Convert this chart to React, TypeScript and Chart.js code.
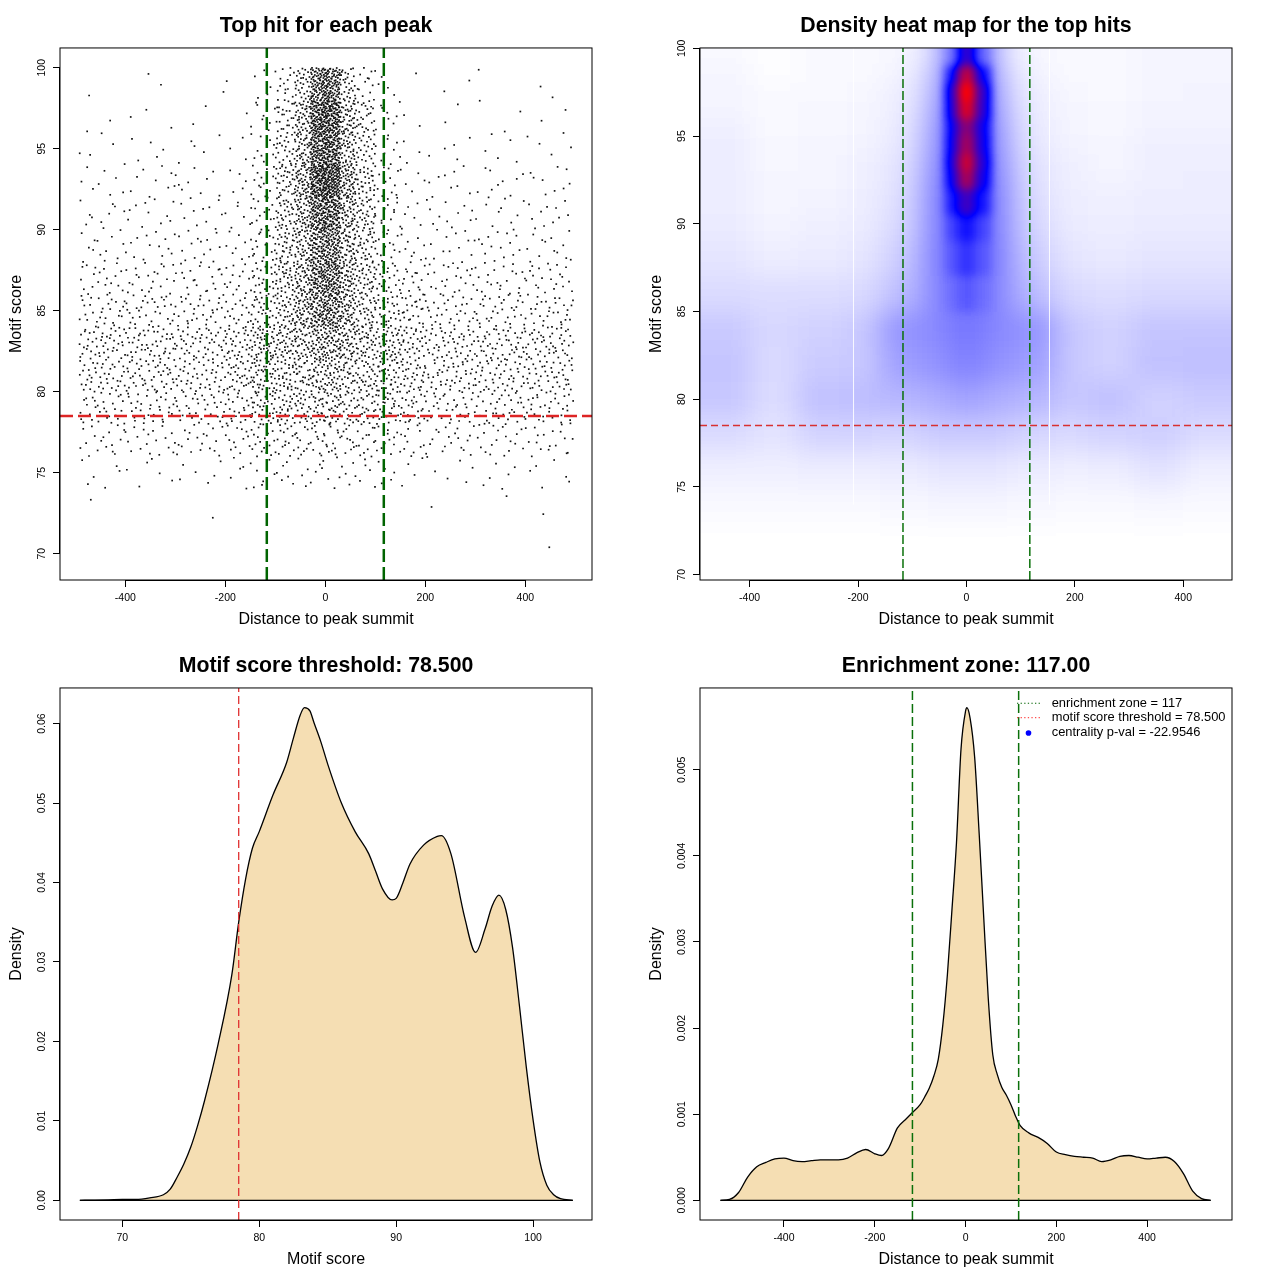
import React, { useEffect, useRef } from "react";
import { Chart, registerables } from "chart.js";

Chart.register(...registerables);

const FONT = "'Liberation Sans', Arial, Helvetica, sans-serif";

// ---------- values shared by the four panels ----------
const ENRICHMENT_ZONE = 117;
const SCORE_THRESHOLD = 78.5;
const CENTRALITY_PVAL = "-22.9546";

// ---------- tick values ----------
const DIST_TICKS = [-400, -200, 0, 200, 400];
const SCORE_TICKS_TOP = [70, 75, 80, 85, 90, 95, 100];
const SCORE_TICKS_BOTTOM = [70, 80, 90, 100];
const SCORE_DENSITY_TICKS = [0, 0.01, 0.02, 0.03, 0.04, 0.05, 0.06];
const DIST_DENSITY_TICKS = [0, 0.001, 0.002, 0.003, 0.004, 0.005];

// ---------- panel 1: top hit for each peak (hits counted per distance x score cell) ----------
const HIT_DIST_EDGES = [-492, -400, -300, -200, -150, -100, -60, -30, -10, 10, 30, 60, 100, 150, 200, 300, 400, 496];
const HIT_SCORE_EDGES = [69.6, 72, 74, 76, 78, 80, 82, 84, 86, 88, 90, 92, 94, 96, 98, 100];
// one row per score band, lowest band first; one column per distance band
const HIT_COUNTS = [
  [0, 0, 0, 0, 0, 0, 0, 0, 0, 0, 0, 0, 0, 0, 0, 0, 1],
  [1, 0, 1, 0, 0, 0, 0, 0, 0, 0, 0, 0, 0, 0, 1, 1, 1],
  [6, 6, 6, 5, 7, 6, 4, 3, 3, 3, 4, 6, 5, 4, 6, 6, 6],
  [17, 19, 19, 13, 18, 16, 10, 8, 8, 8, 10, 14, 13, 11, 19, 19, 18],
  [31, 34, 34, 21, 36, 29, 21, 17, 18, 18, 20, 25, 29, 25, 34, 34, 33],
  [43, 47, 47, 30, 46, 34, 26, 20, 22, 22, 26, 31, 39, 32, 47, 47, 45],
  [46, 50, 50, 31, 51, 40, 33, 29, 33, 33, 37, 40, 43, 33, 50, 50, 48],
  [29, 32, 32, 18, 31, 37, 44, 46, 54, 51, 48, 33, 30, 23, 32, 32, 31],
  [20, 22, 22, 12, 25, 38, 42, 54, 62, 59, 46, 36, 23, 16, 22, 22, 21],
  [13, 14, 14, 8, 18, 33, 38, 51, 58, 55, 40, 32, 15, 8, 14, 14, 13],
  [10, 11, 11, 6, 15, 34, 42, 64, 74, 68, 45, 35, 13, 6, 11, 11, 11],
  [8, 9, 9, 5, 13, 34, 50, 82, 97, 87, 54, 34, 11, 5, 9, 9, 9],
  [5, 5, 5, 3, 10, 26, 40, 69, 81, 71, 40, 26, 9, 3, 5, 5, 5],
  [2, 3, 2, 1, 8, 24, 40, 75, 90, 78, 42, 26, 8, 2, 2, 3, 2],
  [1, 2, 1, 1, 5, 16, 28, 55, 70, 57, 27, 14, 4, 1, 2, 1, 2],
];

// ---------- panel 2: density heat map (normalised density per cell) ----------
const HEAT_DIST_EDGES = [-493, -400, -310, -220, -160, -110, -70, -40, -15, 15, 45, 75, 115, 165, 225, 310, 400, 494];
const HEAT_SCORE_EDGES = [69.7, 73, 75, 77, 79, 81, 83, 85, 87, 89, 90.5, 92, 93, 94, 95, 96, 97, 98, 99, 100.02];
// lowest score band first
const HEAT_DENSITY = [
  [0, 0, 0, 0, 0, 0, 0, 0, 0, 0, 0, 0, 0, 0, 0, 0, 0],
  [0.01, 0.01, 0.01, 0.01, 0.015, 0.015, 0.02, 0.02, 0.02, 0.02, 0.02, 0.015, 0.015, 0.01, 0.01, 0.015, 0.01],
  [0.03, 0.03, 0.035, 0.035, 0.04, 0.04, 0.05, 0.05, 0.05, 0.05, 0.05, 0.04, 0.04, 0.03, 0.035, 0.055, 0.03],
  [0.07, 0.055, 0.085, 0.085, 0.08, 0.09, 0.1, 0.1, 0.1, 0.1, 0.1, 0.09, 0.08, 0.075, 0.085, 0.095, 0.07],
  [0.11, 0.07, 0.12, 0.13, 0.14, 0.15, 0.16, 0.17, 0.19, 0.17, 0.16, 0.15, 0.14, 0.11, 0.12, 0.09, 0.1],
  [0.115, 0.075, 0.1, 0.11, 0.18, 0.2, 0.21, 0.23, 0.25, 0.23, 0.21, 0.2, 0.18, 0.11, 0.09, 0.12, 0.125],
  [0.105, 0.08, 0.09, 0.11, 0.2, 0.22, 0.23, 0.25, 0.28, 0.25, 0.23, 0.22, 0.2, 0.11, 0.09, 0.115, 0.115],
  [0.07, 0.065, 0.065, 0.075, 0.12, 0.17, 0.24, 0.3, 0.33, 0.3, 0.24, 0.17, 0.12, 0.075, 0.065, 0.075, 0.075],
  [0.05, 0.035, 0.04, 0.05, 0.09, 0.15, 0.26, 0.34, 0.4, 0.34, 0.26, 0.15, 0.09, 0.05, 0.045, 0.05, 0.05],
  [0.04, 0.025, 0.03, 0.04, 0.07, 0.13, 0.26, 0.38, 0.47, 0.38, 0.26, 0.13, 0.07, 0.04, 0.035, 0.04, 0.04],
  [0.035, 0.02, 0.025, 0.035, 0.06, 0.12, 0.26, 0.46, 0.62, 0.47, 0.26, 0.12, 0.06, 0.035, 0.03, 0.035, 0.035],
  [0.035, 0.02, 0.02, 0.03, 0.05, 0.11, 0.25, 0.54, 0.82, 0.55, 0.25, 0.11, 0.05, 0.03, 0.025, 0.03, 0.035],
  [0.035, 0.015, 0.02, 0.03, 0.05, 0.1, 0.24, 0.58, 0.9, 0.59, 0.24, 0.1, 0.05, 0.03, 0.02, 0.03, 0.03],
  [0.035, 0.015, 0.02, 0.025, 0.04, 0.09, 0.22, 0.55, 0.82, 0.56, 0.22, 0.09, 0.04, 0.025, 0.02, 0.03, 0.03],
  [0.03, 0.01, 0.015, 0.02, 0.04, 0.08, 0.21, 0.54, 0.77, 0.55, 0.21, 0.08, 0.04, 0.02, 0.015, 0.025, 0.025],
  [0.02, 0.01, 0.015, 0.02, 0.03, 0.07, 0.19, 0.6, 0.93, 0.62, 0.19, 0.07, 0.03, 0.02, 0.015, 0.025, 0.025],
  [0.02, 0.01, 0.01, 0.015, 0.03, 0.06, 0.17, 0.62, 1.0, 0.64, 0.17, 0.06, 0.03, 0.015, 0.01, 0.02, 0.025],
  [0.02, 0.005, 0.01, 0.01, 0.02, 0.05, 0.14, 0.52, 0.88, 0.54, 0.14, 0.05, 0.02, 0.01, 0.01, 0.02, 0.02],
  [0.01, 0.005, 0.01, 0.01, 0.015, 0.03, 0.1, 0.33, 0.6, 0.35, 0.1, 0.03, 0.015, 0.01, 0.01, 0.02, 0.02],
];
const HEAT_SEAMS = [-210, 153];

// ---------- panel 3: motif score density ----------
const SCORE_GRID = [66.9, 68, 69, 70, 71, 72, 73, 73.5, 74, 74.5, 75, 75.5, 76, 77, 78, 78.5, 79, 79.5, 80, 81, 82, 82.5, 83, 83.3, 83.7, 84, 84.5, 85, 86, 87, 88, 88.5, 89, 89.7, 90, 90.5, 91, 92, 93, 93.3, 94, 95, 95.8, 96.5, 97, 97.5, 98, 98.5, 99, 99.5, 100, 100.5, 101, 101.5, 102, 102.9];
const SCORE_DENSITY = [0, 0.00002, 0.00005, 0.0001, 0.0001, 0.0003, 0.0007, 0.0014, 0.0029, 0.0046, 0.0067, 0.0094, 0.0125, 0.0197, 0.0284, 0.035, 0.0404, 0.0443, 0.0464, 0.051, 0.0551, 0.0582, 0.0611, 0.062, 0.0616, 0.0601, 0.0577, 0.0549, 0.05, 0.0464, 0.0436, 0.0414, 0.0392, 0.0378, 0.038, 0.04, 0.0423, 0.0447, 0.0458, 0.0459, 0.0436, 0.0356, 0.0312, 0.0342, 0.037, 0.0384, 0.0366, 0.0318, 0.0245, 0.0168, 0.0101, 0.0048, 0.0019, 0.0007, 0.0002, 0];

// ---------- panel 4: distance density ----------
const DIST_GRID = [-540, -520, -500, -480, -460, -440, -420, -400, -380, -360, -340, -320, -300, -280, -260, -240, -220, -200, -185, -170, -150, -130, -117, -100, -90, -80, -70, -60, -50, -40, -30, -20, -10, 0, 3, 10, 20, 30, 40, 50, 60, 70, 80, 90, 100, 110, 120, 140, 160, 180, 200, 220, 240, 260, 280, 300, 320, 340, 360, 380, 400, 420, 440, 460, 480, 500, 520, 540];
const DIST_DENSITY = [0, 0.00001, 0.00009, 0.00027, 0.00039, 0.00044, 0.00048, 0.00049, 0.00046, 0.00045, 0.00046, 0.00047, 0.00047, 0.00047, 0.00049, 0.00055, 0.00059, 0.00054, 0.00052, 0.0006, 0.00084, 0.00095, 0.00102, 0.00111, 0.0012, 0.0013, 0.00144, 0.00164, 0.00204, 0.00262, 0.00337, 0.00415, 0.00524, 0.00568, 0.00572, 0.0056, 0.00515, 0.00426, 0.00329, 0.00235, 0.00169, 0.00146, 0.00131, 0.00122, 0.00111, 0.00098, 0.00087, 0.00078, 0.00073, 0.00066, 0.00056, 0.00053, 0.00051, 0.0005, 0.00049, 0.00045, 0.00047, 0.00051, 0.00052, 0.0005, 0.00048, 0.00049, 0.0005, 0.00045, 0.00031, 0.00011, 0.00002, 0];

// ---------- texts ----------
const TITLES = [
  "Top hit for each peak",
  "Density heat map for the top hits",
  `Motif score threshold: ${SCORE_THRESHOLD.toFixed(3)}`,
  `Enrichment zone: ${ENRICHMENT_ZONE.toFixed(2)}`,
];
const LEGEND_LABELS = [
  `enrichment zone = ${ENRICHMENT_ZONE}`,
  `motif score threshold = ${SCORE_THRESHOLD.toFixed(3)}`,
  `centrality p-val = ${CENTRALITY_PVAL}`,
];

// ---------- styles ----------
const HEAT_RAMP = [
  [255, 255, 255],
  [0, 0, 255],
  [255, 0, 0],
];
const HEAT_CAP = 0.28;
const WHEAT = "#F5DEB3";
const GREEN = "#006400";
const RED = "#dd2424";

function heatColor(v: number): number[] {
  const t = Math.max(0, Math.min(1, v)) * (HEAT_RAMP.length - 1);
  const i = Math.min(HEAT_RAMP.length - 2, Math.floor(t));
  const f = t - i;
  const a = HEAT_RAMP[i];
  const b = HEAT_RAMP[i + 1];
  return [a[0] + (b[0] - a[0]) * f, a[1] + (b[1] - a[1]) * f, a[2] + (b[2] - a[2]) * f];
}

function halton(i: number, base: number): number {
  let f = 1;
  let r = 0;
  let n = i;
  while (n > 0) {
    f /= base;
    r += f * (n % base);
    n = Math.floor(n / base);
  }
  return r;
}

// each counted hit is placed inside its own cell
function hitPoints() {
  const pts: { x: number; y: number }[] = [];
  let g = 1;
  HIT_COUNTS.forEach((row, r) => {
    const y0 = HIT_SCORE_EDGES[r];
    const y1 = HIT_SCORE_EDGES[r + 1];
    row.forEach((n, c) => {
      const x0 = HIT_DIST_EDGES[c];
      const x1 = HIT_DIST_EDGES[c + 1];
      for (let k = 0; k < n; k++, g++) {
        pts.push({ x: x0 + halton(g, 2) * (x1 - x0), y: y0 + halton(g, 3) * (y1 - y0) });
      }
    });
  });
  return pts;
}

type Frame = {
  title: string;
  xTitle: string;
  yTitle: string;
  xMin: number;
  xMax: number;
  xTicks: number[];
  yMin: number;
  yMax: number;
  yTicks: number[];
};

function fixedTicks(values: number[]) {
  return (s: any) => {
    s.ticks = values.map((v) => ({ value: v }));
  };
}

function frameOptions(f: Frame): any {
  const tickGrid = { display: true, drawOnChartArea: false, drawTicks: true, tickLength: 7, color: "#000", lineWidth: 1 };
  return {
    responsive: false,
    animation: false,
    devicePixelRatio: 1,
    events: [],
    layout: { padding: { left: 0, right: 48, top: 0, bottom: 0 } },
    plugins: {
      legend: { display: false },
      tooltip: { enabled: false },
      title: {
        display: true,
        text: f.title,
        fullSize: false,
        color: "#000",
        font: { family: FONT, size: 21.3, weight: "bold" },
        padding: { top: 13, bottom: 9.4 },
      },
    },
    scales: {
      x: {
        type: "linear",
        min: f.xMin,
        max: f.xMax,
        afterBuildTicks: fixedTicks(f.xTicks),
        afterFit: (s: any) => {
          s.height = 60;
        },
        border: { display: false },
        grid: tickGrid,
        ticks: {
          autoSkip: false,
          maxRotation: 0,
          minRotation: 0,
          padding: 5,
          color: "#000",
          font: { family: FONT, size: 10.5 },
          callback: (v: any) => String(v),
        },
        title: { display: true, text: f.xTitle, color: "#000", font: { family: FONT, size: 16 }, padding: { top: 0, bottom: 10.4 } },
      },
      y: {
        type: "linear",
        min: f.yMin,
        max: f.yMax,
        afterBuildTicks: fixedTicks(f.yTicks),
        afterFit: (s: any) => {
          s.width = 60;
        },
        border: { display: false },
        grid: tickGrid,
        ticks: {
          autoSkip: false,
          color: "rgba(0,0,0,0)",
          font: { family: FONT, size: 10.5 },
        },
        title: { display: true, text: f.yTitle, color: "#000", font: { family: FONT, size: 16 }, padding: { top: 7, bottom: 0 } },
      },
    },
  };
}

// box, axis lines and rotated y tick labels as in base graphics
function axisPlugin(yDigits: number) {
  return {
    id: "baseAxes",
    afterDraw(chart: any) {
      const { ctx, chartArea: ca, scales } = chart;
      const xs = scales.x;
      const ys = scales.y;
      ctx.save();
      ctx.strokeStyle = "#000";
      ctx.lineWidth = 1;
      ctx.setLineDash([]);
      ctx.strokeRect(ca.left, ca.top, ca.right - ca.left, ca.bottom - ca.top);
      const xt = xs.ticks;
      const yt = ys.ticks;
      ctx.beginPath();
      const by = Math.round(ca.bottom) + 0.5;
      ctx.moveTo(xs.getPixelForValue(xt[0].value), by);
      ctx.lineTo(xs.getPixelForValue(xt[xt.length - 1].value), by);
      const lx = Math.round(ca.left) - 0.5;
      ctx.moveTo(lx, ys.getPixelForValue(yt[0].value));
      ctx.lineTo(lx, ys.getPixelForValue(yt[yt.length - 1].value));
      ctx.stroke();
      ctx.fillStyle = "#000";
      ctx.font = `10.5px ${FONT}`;
      ctx.textAlign = "center";
      ctx.textBaseline = "middle";
      for (const t of yt) {
        const py = ys.getPixelForValue(t.value);
        ctx.save();
        ctx.translate(ca.left - 18, py);
        ctx.rotate(-Math.PI / 2);
        ctx.fillText(Number(t.value).toFixed(yDigits), 0, 0);
        ctx.restore();
      }
      ctx.restore();
    },
  };
}

// density cells: the part up to HEAT_CAP is smoothed widely, the excess narrowly
function paintLayer(chart: any, M: number, w: number, h: number, pick: (v: number) => number, blur: number) {
  const { chartArea: ca, scales } = chart;
  const xs = scales.x;
  const ys = scales.y;
  const src = document.createElement("canvas");
  src.width = w + 2 * M;
  src.height = h + 2 * M;
  const s = src.getContext("2d")!;
  s.fillStyle = "#000";
  s.fillRect(0, 0, src.width, src.height);
  const nR = HEAT_SCORE_EDGES.length - 1;
  const nC = HEAT_DIST_EDGES.length - 1;
  for (let r = 0; r < nR; r++) {
    for (let c = 0; c < nC; c++) {
      let x0 = Math.round(xs.getPixelForValue(HEAT_DIST_EDGES[c]) - ca.left + M);
      let x1 = Math.round(xs.getPixelForValue(HEAT_DIST_EDGES[c + 1]) - ca.left + M);
      let y0 = Math.round(ys.getPixelForValue(HEAT_SCORE_EDGES[r + 1]) - ca.top + M);
      let y1 = Math.round(ys.getPixelForValue(HEAT_SCORE_EDGES[r]) - ca.top + M);
      if (c === 0) x0 = 0;
      if (c === nC - 1) x1 = src.width;
      if (r === nR - 1) y0 = 0;
      if (r === 0) y1 = src.height;
      const g = Math.round(pick(HEAT_DENSITY[r][c]) * 255);
      s.fillStyle = `rgb(${g},${g},${g})`;
      s.fillRect(x0, y0, x1 - x0, y1 - y0);
    }
  }
  const out = document.createElement("canvas");
  out.width = src.width;
  out.height = src.height;
  const o = out.getContext("2d")!;
  o.filter = `blur(${blur}px)`;
  o.drawImage(src, 0, 0);
  o.filter = "none";
  return out;
}

const heatPlugin = {
  id: "densityImage",
  beforeDatasetsDraw(chart: any) {
    const { ctx, chartArea: ca, scales } = chart;
    const xs = scales.x;
    const ys = scales.y;
    const w = Math.round(ca.right - ca.left);
    const h = Math.round(ca.bottom - ca.top);
    const M = 50;
    const wide = paintLayer(chart, M, w, h, (v) => Math.min(v, HEAT_CAP), 12);
    const narrow = paintLayer(chart, M, w, h, (v) => Math.max(0, v - HEAT_CAP), 5);
    const sum = document.createElement("canvas");
    sum.width = wide.width;
    sum.height = wide.height;
    const sc = sum.getContext("2d")!;
    sc.drawImage(wide, 0, 0);
    sc.globalCompositeOperation = "lighter";
    sc.drawImage(narrow, 0, 0);
    const img = sc.getImageData(M, M, w, h);
    const d = img.data;
    for (let i = 0; i < d.length; i += 4) {
      const col = heatColor(d[i] / 255);
      d[i] = col[0];
      d[i + 1] = col[1];
      d[i + 2] = col[2];
      d[i + 3] = 255;
    }
    const out = document.createElement("canvas");
    out.width = w;
    out.height = h;
    out.getContext("2d")!.putImageData(img, 0, 0);
    ctx.save();
    ctx.drawImage(out, ca.left, ca.top, w, h);
    ctx.strokeStyle = "rgba(255,255,255,0.85)";
    ctx.lineWidth = 1;
    ctx.beginPath();
    for (const gx of HEAT_SEAMS) {
      const px = Math.round(xs.getPixelForValue(gx)) + 0.5;
      ctx.moveTo(px, ys.getPixelForValue(100));
      ctx.lineTo(px, ys.getPixelForValue(74));
    }
    ctx.stroke();
    ctx.restore();
  },
};

const legendPlugin = {
  id: "zoneLegend",
  afterDraw(chart: any) {
    const { ctx, chartArea: ca } = chart;
    const sx0 = ca.right - 215;
    const sx1 = ca.right - 192;
    const tx = ca.right - 180.3;
    const rows = [ca.top + 15.3, ca.top + 29.7, ca.top + 44.1];
    ctx.save();
    ctx.lineWidth = 1.2;
    ctx.setLineDash([1.3, 2.3]);
    ctx.strokeStyle = GREEN;
    ctx.beginPath();
    ctx.moveTo(sx0, rows[0]);
    ctx.lineTo(sx1, rows[0]);
    ctx.stroke();
    ctx.strokeStyle = "#ff4d4d";
    ctx.beginPath();
    ctx.moveTo(sx0, rows[1]);
    ctx.lineTo(sx1, rows[1]);
    ctx.stroke();
    ctx.setLineDash([]);
    ctx.fillStyle = "#0000ff";
    ctx.beginPath();
    ctx.arc((sx0 + sx1) / 2, rows[2] + 1, 2.8, 0, Math.PI * 2);
    ctx.fill();
    ctx.fillStyle = "#000";
    ctx.font = `12.9px ${FONT}`;
    ctx.textAlign = "left";
    ctx.textBaseline = "middle";
    LEGEND_LABELS.forEach((t, i) => ctx.fillText(t, tx, rows[i]));
    ctx.restore();
  },
};

function refLine(points: { x: number; y: number }[], color: string, width: number, dash: number[]) {
  return {
    data: points,
    borderColor: color,
    borderWidth: width,
    borderDash: dash,
    pointRadius: 0,
    fill: false,
    order: 0,
  };
}

function buildHits(): any {
  const f: Frame = {
    title: TITLES[0],
    xTitle: "Distance to peak summit",
    yTitle: "Motif score",
    xMin: -530.6,
    xMax: 533.4,
    xTicks: DIST_TICKS,
    yMin: 68.38,
    yMax: 101.22,
    yTicks: SCORE_TICKS_TOP,
  };
  return {
    type: "line",
    data: {
      datasets: [
        refLine([{ x: -ENRICHMENT_ZONE, y: f.yMin }, { x: -ENRICHMENT_ZONE, y: f.yMax }], GREEN, 2.5, [13, 5]),
        refLine([{ x: ENRICHMENT_ZONE, y: f.yMin }, { x: ENRICHMENT_ZONE, y: f.yMax }], GREEN, 2.5, [13, 5]),
        refLine([{ x: f.xMin, y: SCORE_THRESHOLD }, { x: f.xMax, y: SCORE_THRESHOLD }], RED, 2.5, [13, 5]),
        {
          data: hitPoints(),
          showLine: false,
          pointStyle: "rect",
          pointRadius: 1.2,
          pointBorderWidth: 0,
          pointBackgroundColor: "#111",
          order: 1,
        },
      ],
    },
    options: frameOptions(f),
    plugins: [axisPlugin(0)],
  };
}

function buildHeat(): any {
  const f: Frame = {
    title: TITLES[1],
    xTitle: "Distance to peak summit",
    yTitle: "Motif score",
    xMin: -491.5,
    xMax: 490,
    xTicks: DIST_TICKS,
    yMin: 69.7,
    yMax: 100.02,
    yTicks: SCORE_TICKS_TOP,
  };
  return {
    type: "line",
    data: {
      datasets: [
        refLine([{ x: -ENRICHMENT_ZONE, y: f.yMin }, { x: -ENRICHMENT_ZONE, y: f.yMax }], "#0a700a", 1.5, [9, 3]),
        refLine([{ x: ENRICHMENT_ZONE, y: f.yMin }, { x: ENRICHMENT_ZONE, y: f.yMax }], "#0a700a", 1.5, [9, 3]),
        refLine([{ x: f.xMin, y: SCORE_THRESHOLD }, { x: f.xMax, y: SCORE_THRESHOLD }], "#d83030", 1.5, [7, 4]),
      ],
    },
    options: frameOptions(f),
    plugins: [heatPlugin, axisPlugin(0)],
  };
}

function densityDatasets(xs: number[], ys: number[]) {
  return [
    {
      data: xs.map((x, i) => ({ x, y: ys[i] })),
      borderColor: "#000",
      borderWidth: 1.3,
      backgroundColor: WHEAT,
      fill: "origin",
      pointRadius: 0,
      cubicInterpolationMode: "monotone",
      order: 2,
    },
    {
      data: [{ x: xs[0], y: 0 }, { x: xs[xs.length - 1], y: 0 }],
      borderColor: "#000",
      borderWidth: 1.3,
      pointRadius: 0,
      fill: false,
      order: 1,
    },
  ];
}

function buildScoreDensity(): any {
  const f: Frame = {
    title: TITLES[2],
    xTitle: "Motif score",
    yTitle: "Density",
    xMin: 65.45,
    xMax: 104.3,
    xTicks: SCORE_TICKS_BOTTOM,
    yMin: -0.00248,
    yMax: 0.06448,
    yTicks: SCORE_DENSITY_TICKS,
  };
  return {
    type: "line",
    data: {
      datasets: [
        refLine([{ x: SCORE_THRESHOLD, y: f.yMin }, { x: SCORE_THRESHOLD, y: f.yMax }], "#e03030", 1.3, [8, 4]),
        ...densityDatasets(SCORE_GRID, SCORE_DENSITY),
      ],
    },
    options: frameOptions(f),
    plugins: [axisPlugin(2)],
  };
}

function buildDistDensity(): any {
  const f: Frame = {
    title: TITLES[3],
    xTitle: "Distance to peak summit",
    yTitle: "Density",
    xMin: -585,
    xMax: 587,
    xTicks: DIST_TICKS,
    yMin: -0.000229,
    yMax: 0.00595,
    yTicks: DIST_DENSITY_TICKS,
  };
  return {
    type: "line",
    data: {
      datasets: [
        refLine([{ x: -ENRICHMENT_ZONE, y: f.yMin }, { x: -ENRICHMENT_ZONE, y: f.yMax }], "#0a700a", 1.5, [9, 4]),
        refLine([{ x: ENRICHMENT_ZONE, y: f.yMin }, { x: ENRICHMENT_ZONE, y: f.yMax }], "#0a700a", 1.5, [9, 4]),
        ...densityDatasets(DIST_GRID, DIST_DENSITY),
      ],
    },
    options: frameOptions(f),
    plugins: [axisPlugin(3), legendPlugin],
  };
}

function Panel({ build, left, top }: { build: () => any; left: number; top: number }) {
  const ref = useRef<HTMLCanvasElement>(null);
  useEffect(() => {
    const chart = new Chart(ref.current as HTMLCanvasElement, build());
    return () => chart.destroy();
  }, [build]);
  return (
    <canvas
      ref={ref}
      width={640}
      height={640}
      style={{ position: "absolute", left, top, width: 640, height: 640 }}
    />
  );
}

export default function App() {
  return (
    <div style={{ position: "absolute", left: 0, top: 0, width: 1280, height: 1280, background: "#fff" }}>
      <Panel build={buildHits} left={0} top={0} />
      <Panel build={buildHeat} left={640} top={0} />
      <Panel build={buildScoreDensity} left={0} top={640} />
      <Panel build={buildDistDensity} left={640} top={640} />
    </div>
  );
}
